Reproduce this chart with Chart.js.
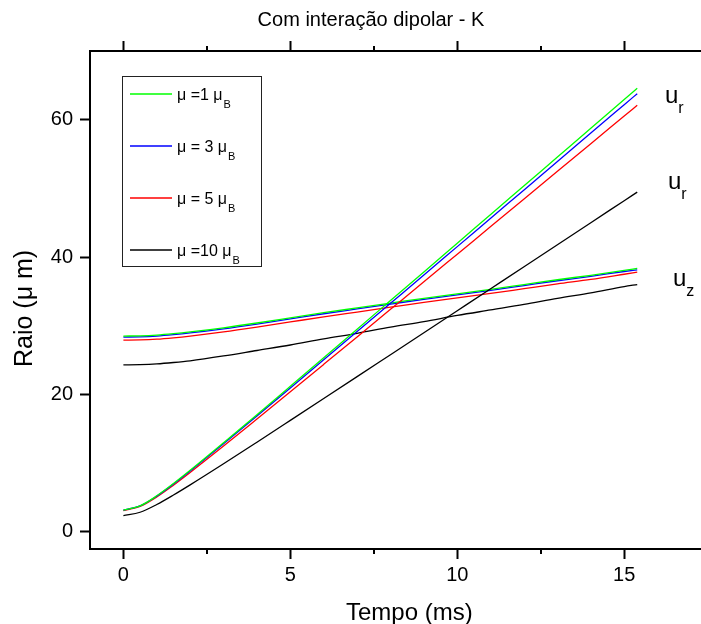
<!DOCTYPE html>
<html>
<head>
<meta charset="utf-8">
<script src="https://cdn.jsdelivr.net/npm/chart.js@4.4.1/dist/chart.umd.min.js"></script>
<style>
  html, body { margin: 0; padding: 0; background: #fff; }
  #wrap { width: 701px; height: 624px; }
</style>
</head>
<body>
<div id="wrap"><canvas id="raio-chart" width="701" height="624"></canvas></div>
<script>
// tempo (ms)
const tempo = [0, 0.5, 1, 1.5, 2, 3, 4, 5, 6, 7, 8, 9, 10, 11, 12, 13, 14, 15, 15.39];

// raio radial u_r (μm)
const urMu1  = [3.15, 3.78, 5.24, 7.03, 8.95, 12.96, 17.05, 21.19, 25.34, 29.50, 33.67, 37.84, 42.02, 46.20, 50.38, 54.56, 58.74, 62.93, 64.56];
const urMu3  = [3.15, 3.77, 5.20, 6.96, 8.86, 12.81, 16.86, 20.94, 25.04, 29.15, 33.27, 37.39, 41.52, 45.65, 49.78, 53.91, 58.05, 62.18, 63.79];
const urMu5  = [3.10, 3.70, 5.08, 6.79, 8.64, 12.48, 16.42, 20.39, 24.38, 28.38, 32.39, 36.40, 40.42, 44.44, 48.46, 52.48, 56.51, 60.53, 62.10];
const urMu10 = [2.35, 2.85, 3.98, 5.36, 6.84, 9.91, 13.05, 16.22, 19.40, 22.59, 25.79, 28.99, 32.19, 35.39, 38.59, 41.80, 45.00, 48.21, 49.46];

// raio axial u_z (μm)
const uzMu1  = [28.50, 28.54, 28.65, 28.85, 29.10, 29.70, 30.40, 31.15, 31.90, 32.60, 33.30, 34.00, 34.65, 35.30, 36.00, 36.70, 37.35, 38.05, 38.35];
const uzMu3  = [28.35, 28.39, 28.50, 28.70, 28.95, 29.55, 30.25, 31.00, 31.75, 32.45, 33.15, 33.85, 34.50, 35.15, 35.85, 36.55, 37.20, 37.90, 38.15];
const uzMu5  = [27.90, 27.94, 28.05, 28.25, 28.50, 29.10, 29.80, 30.55, 31.30, 32.00, 32.70, 33.40, 34.05, 34.70, 35.40, 36.10, 36.75, 37.50, 37.80];
const uzMu10 = [24.30, 24.34, 24.45, 24.65, 24.90, 25.60, 26.40, 27.20, 28.10, 28.90, 29.80, 30.60, 31.50, 32.30, 33.10, 34.00, 34.80, 35.70, 36.00];

const legendLabels = ['μ =1 μ', 'μ = 3 μ', 'μ = 5 μ', 'μ =10 μ'];
const legendSub = 'B';
const xTicks = [0, 5, 10, 15];
const xMinorTicks = [2.5, 7.5, 12.5];
const yTicks = [0, 20, 40, 60];

const chartTitle = 'Com interação dipolar - K';
const xTitle = 'Tempo (ms)';
const yTitle = 'Raio (μ m)';

const colors = ['#00ff00', '#0000ff', '#ff0000', '#000000'];
const FONT = "'Liberation Sans', Arial, sans-serif";

const urSeries = [urMu1, urMu3, urMu5, urMu10];
const uzSeries = [uzMu1, uzMu3, uzMu5, uzMu10];

function toPoints(values) {
  return tempo.map((t, i) => ({ x: t, y: values[i] }));
}

const datasets = [];
urSeries.forEach((s, i) => {
  datasets.push({ label: legendLabels[i], data: toPoints(s), borderColor: colors[i] });
});
uzSeries.forEach((s, i) => {
  datasets.push({ label: legendLabels[i] + ' z', data: toPoints(s), borderColor: colors[i] });
});

// labels at the right end of the curves: main, sub, x (px), baseline y (px)
const curveTags = [
  { main: 'u', sub: 'r', x: 665, y: 103 },
  { main: 'u', sub: 'r', x: 668, y: 189 },
  { main: 'u', sub: 'z', x: 673, y: 286 },
];

const extrasPlugin = {
  id: 'extras',
  afterDraw(chart) {
    const ctx = chart.ctx;
    const area = chart.chartArea;
    const xs = chart.scales.x;
    ctx.save();

    // minor ticks top & bottom
    ctx.strokeStyle = '#000';
    ctx.lineWidth = 2;
    xMinorTicks.forEach(v => {
      const px = Math.round(xs.getPixelForValue(v));
      ctx.beginPath();
      ctx.moveTo(px, area.bottom);
      ctx.lineTo(px, area.bottom + 5);
      ctx.moveTo(px, area.top);
      ctx.lineTo(px, area.top - 5);
      ctx.stroke();
    });

    // title
    ctx.fillStyle = '#000';
    ctx.font = `20px ${FONT}`;
    ctx.textAlign = 'center';
    ctx.textBaseline = 'middle';
    ctx.fillText(chartTitle, 371, 20);

    // axis titles
    ctx.textAlign = 'left';
    ctx.textBaseline = 'alphabetic';
    ctx.font = `24px ${FONT}`;
    ctx.fillText(xTitle, 346, 620);
    ctx.save();
    ctx.translate(32, 367);
    ctx.rotate(-Math.PI / 2);
    ctx.font = `25px ${FONT}`;
    ctx.fillText(yTitle, 0, 0);
    ctx.restore();

    // legend box
    ctx.strokeStyle = '#222';
    ctx.lineWidth = 1;
    ctx.strokeRect(122.5, 76.5, 139, 190);
    legendLabels.forEach((lab, i) => {
      const ly = 94 + i * 52;
      ctx.strokeStyle = colors[i];
      ctx.lineWidth = 1.5;
      ctx.beginPath();
      ctx.moveTo(130, ly);
      ctx.lineTo(172, ly);
      ctx.stroke();
      ctx.fillStyle = '#000';
      ctx.font = `16px ${FONT}`;
      ctx.fillText(lab, 177, ly + 6);
      const w = ctx.measureText(lab).width;
      ctx.font = `11px ${FONT}`;
      ctx.fillText(legendSub, 177 + w + 1, ly + 14);
    });

    // curve tags
    curveTags.forEach(t => {
      ctx.font = `24px ${FONT}`;
      ctx.fillText(t.main, t.x, t.y);
      const w = ctx.measureText(t.main).width;
      ctx.font = `16px ${FONT}`;
      ctx.fillText(t.sub, t.x + w, t.y + 9.5);
    });
    ctx.restore();
  }
};

const axisGrid = {
  drawOnChartArea: false,
  drawTicks: true,
  tickLength: 10,
  tickWidth: 2,
  tickColor: '#000',
};
const axisBorder = { display: true, width: 2, color: '#000' };

new Chart(document.getElementById('raio-chart'), {
  type: 'line',
  data: { datasets },
  plugins: [extrasPlugin],
  options: {
    responsive: false,
    animation: false,
    layout: { padding: 0 },
    elements: {
      point: { radius: 0 },
      line: { borderWidth: 1.3, cubicInterpolationMode: 'monotone' },
    },
    plugins: {
      legend: { display: false },
      tooltip: { enabled: false },
      title: { display: false },
    },
    scales: {
      x: {
        type: 'linear',
        position: 'bottom',
        min: -1,
        max: 17.3,
        afterBuildTicks: s => { s.ticks = xTicks.map(v => ({ value: v })); },
        afterFit: s => { s.height = 75; },
        grid: axisGrid,
        border: axisBorder,
        ticks: { color: '#000', padding: 4, maxRotation: 0, font: { family: FONT, size: 20 } },
      },
      x2: {
        type: 'linear',
        position: 'top',
        min: -1,
        max: 17.3,
        afterBuildTicks: s => { s.ticks = xTicks.map(v => ({ value: v })); },
        afterFit: s => { s.height = 51; },
        grid: axisGrid,
        border: axisBorder,
        ticks: { display: false },
      },
      y: {
        type: 'linear',
        position: 'left',
        min: -2.5,
        max: 70,
        afterBuildTicks: s => { s.ticks = yTicks.map(v => ({ value: v })); },
        afterFit: s => { s.width = 90; },
        grid: axisGrid,
        border: axisBorder,
        ticks: { color: '#000', padding: 7, font: { family: FONT, size: 20 } },
      },
    },
  },
});
</script>
</body>
</html>
